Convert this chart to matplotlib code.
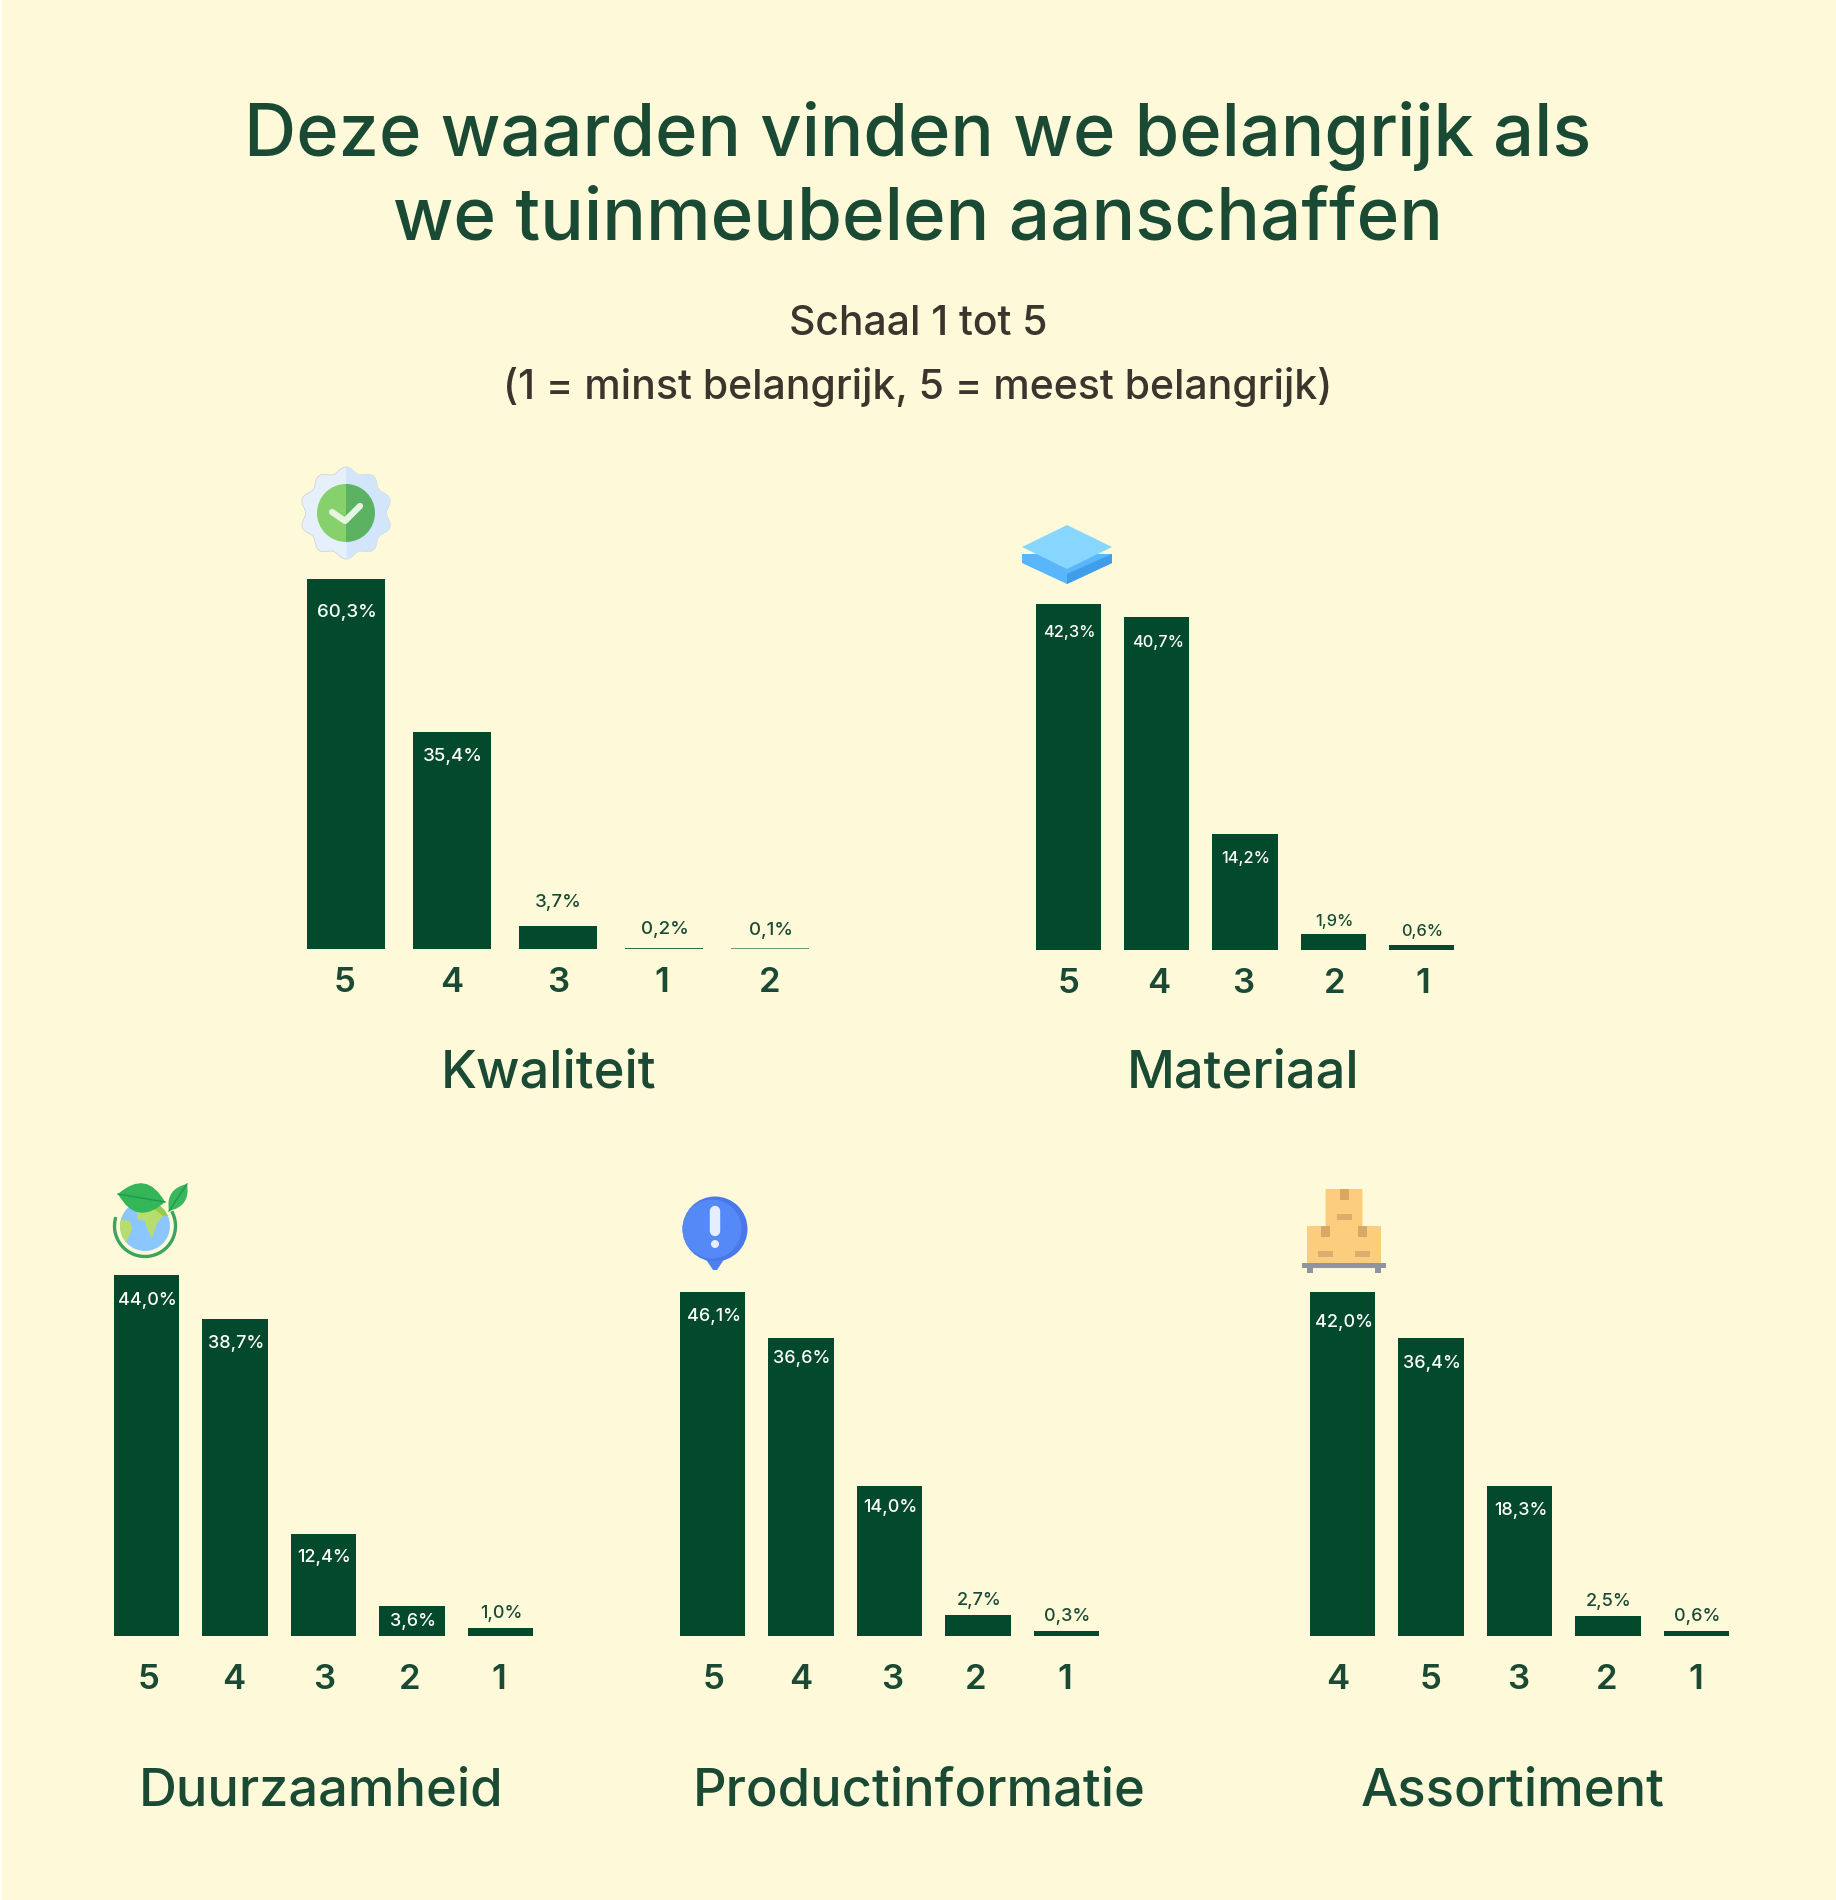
"""Deze waarden vinden we belangrijk - five small bar panels with icons"""
import numpy as np
import matplotlib
matplotlib.use("Agg")
import matplotlib.pyplot as plt
from matplotlib.patches import Circle, Polygon, Rectangle, FancyBboxPatch, Arc, Wedge, PathPatch
from matplotlib.path import Path

BG = "#fefad9"
BAR = "#034a2c"
HEAD = "#1a4a34"
SUB = "#3b352d"
FONT = ["Inter", "Open Sans", "DejaVu Sans"]

kwaliteit_labels = ["5", "4", "3", "1", "2"]
kwaliteit_values = [60.3, 35.4, 3.7, 0.2, 0.1]
materiaal_labels = ["5", "4", "3", "2", "1"]
materiaal_values = [42.3, 40.7, 14.2, 1.9, 0.6]
duurzaam_labels = ["5", "4", "3", "2", "1"]
duurzaam_values = [44.0, 38.7, 12.4, 3.6, 1.0]
product_labels = ["5", "4", "3", "2", "1"]
product_values = [46.1, 36.6, 14.0, 2.7, 0.3]
# the source draws these bars taller/shorter than their printed percentages
product_heights = [42.0, 36.4, 18.3, 2.6, 0.6]
assort_labels = ["4", "5", "3", "2", "1"]
assort_values = [42.0, 36.4, 18.3, 2.5, 0.6]

W, H = 1836, 1900
fig = plt.figure(figsize=(W / 100, H / 100), dpi=100, facecolor=BG)
pg = fig.add_axes([0, 0, 1, 1])
pg.set_xlim(0, W)
pg.set_ylim(H, 0)
pg.axis("off")
pg.set_facecolor("none")
pg.add_patch(Rectangle((0, 0), 2, H, fc="#fffff2", ec="none"))  # pale strip on the left edge


def fmt(v):
    return f"{v:.1f}".replace(".", ",") + "%"


def panel(left, right, bottom, px_per_pct, cats, vals, heights=None, nudge=None, label_pad=30, inside=None, small=None):
    """left/right = outer bar edges in pixels, bottom = baseline pixel"""
    n = len(vals)
    heights = vals if heights is None else heights
    top = bottom - max(heights) * px_per_pct
    ax = fig.add_axes([left / W, 1 - bottom / H, (right - left) / W, (bottom - top) / H])
    ax.patch.set_alpha(0)
    ax.set_xlim(-0.5 + (1 - 0.74) / 2, n - 0.5 - (1 - 0.74) / 2)
    ax.set_ylim(0, max(heights))
    x = np.arange(n)
    for i, (h, v) in enumerate(zip(heights, vals)):
        alpha = 0.55 if h <= 0.1 else (0.8 if h <= 0.2 else 1)
        ax.bar(i, h, width=0.74, color=BAR, alpha=alpha, linewidth=0)
        off = inside[i]
        ax.annotate(fmt(v), (i, h), xytext=(1, -off), textcoords="offset pixels",
                    ha="center", va="center", fontsize=small, color="white" if off > 0 else HEAD,
                    family=FONT, fontweight="medium", clip_on=False)
    nudge = [0] * n if nudge is None else nudge
    unit = (right - left) / (n - 0.74)
    ax.set_xticks(x + np.array(nudge) / unit)
    ax.set_xticklabels(cats, fontsize=25, color=HEAD, family=FONT, fontweight="semibold")
    ax.tick_params(axis="x", length=0, pad=label_pad)
    ax.set_yticks([])
    for s in ax.spines.values():
        s.set_visible(False)
    return ax


# Top row
panel(306.5, 809, 949, 6.135, kwaliteit_labels, kwaliteit_values, nudge=[-1, 0, 0, -2, 0],
      label_pad=13, inside=[33, 25, -24, -18, -18], small=13.5)
panel(1036, 1454, 950, 8.17, materiaal_labels, materiaal_values, nudge=[0, 2, -2, 2, 1],
      label_pad=13, inside=[28, 25, 25, -13, -14], small=11.8)
# Bottom row
panel(114, 533, 1636, 8.2, duurzaam_labels, duurzaam_values, nudge=[2, -1, 1, -3, -2],
      label_pad=20, inside=[25, 25, 23, 15, -14], small=13)
panel(680, 1099, 1636, 8.2, product_labels, product_values, heights=product_heights,
      nudge=[1, 0, 3, -2, -2], label_pad=20, inside=[25, 21, 22, -14, -15], small=13)
panel(1310, 1729, 1636, 8.2, assort_labels, assort_values, nudge=[-5, -1, -2, -1, -1],
      label_pad=20, inside=[31, 26, 25, -14, -15], small=13)

# Headings
title_kw = dict(ha="center", va="center", family=FONT, color=HEAD, fontweight="medium")
pg.text(918, 136, "Deze waarden vinden we belangrijk als", fontsize=52, **title_kw)
pg.text(918, 220, "we tuinmeubelen aanschaffen", fontsize=52.4, **title_kw)
pg.text(918, 324, "Schaal 1 tot 5", fontsize=29.4, ha="center", va="center", family=FONT, color=SUB, fontweight="medium")
pg.text(918, 387, "(1 = minst belangrijk, 5 = meest belangrijk)", fontsize=29.5, ha="center", va="center",
        family=FONT, color=SUB, fontweight="medium")
for name, cx, cy in [("Kwaliteit", 549, 1074), ("Materiaal", 1243, 1074), ("Duurzaamheid", 321, 1792),
                     ("Productinformatie", 919, 1792), ("Assortiment", 1513, 1792)]:
    pg.text(cx, cy, name, fontsize=37.8, **title_kw)


# Icons
def badge(cx, cy):
    t = np.linspace(0, 2 * np.pi, 240)
    r = 47 * (0.92 + 0.06 * np.cos(10 * t))
    xs, ys = cx + r * np.sin(t), cy - r * np.cos(t)
    pg.add_patch(Polygon(np.c_[xs, ys], fc="#e6f0fb", ec="#cfd6d8", lw=0.6))
    right = t <= np.pi
    pg.add_patch(Polygon(np.c_[xs[right], ys[right]], fc="#d3e5fb", ec="none"))
    pg.add_patch(Wedge((cx, cy), 29, 90, 270, fc="#86d16c", ec="none"))
    pg.add_patch(Wedge((cx, cy), 29, 270, 90, fc="#5cb263", ec="none"))
    pg.plot([cx - 14, cx - 1, cx + 14], [cy - 1, cy + 8, cy - 7], color="#e6f5e2", lw=4.5, solid_capstyle="round")


def layers(cx, cy):
    pg.add_patch(Polygon([(cx - 45, cy + 8), (cx + 45, cy + 8), (cx + 45, cy + 17), (cx, cy + 38), (cx - 45, cy + 17)],
                         fc="#5ab6fb", ec="none"))
    pg.add_patch(Polygon([(cx, cy + 28), (cx + 45, cy + 8), (cx + 45, cy + 17), (cx, cy + 38)], fc="#3f9de9", ec="none"))
    pg.add_patch(Polygon([(cx - 45, cy + 1), (cx, cy - 21), (cx + 45, cy + 1), (cx, cy + 23)], fc="#86d6ff", ec="none"))


def leaf(x0, y0, x1, y1, bulge, fc):
    xm, ym = (x0 + x1) / 2, (y0 + y1) / 2
    dx, dy = x1 - x0, y1 - y0
    a = (xm - dy * bulge, ym + dx * bulge)
    b = (xm + dy * bulge, ym - dx * bulge)
    p = Path([(x0, y0), a, (x1, y1), b, (x0, y0)], [Path.MOVETO, Path.CURVE3, Path.LINETO, Path.CURVE3, Path.LINETO])
    pg.add_patch(PathPatch(p, fc=fc, ec="none", zorder=5))
    pg.plot([x0, x1], [y0, y1], color="#1f9a4b", lw=1, zorder=6)


def globe(cx, cy):
    pg.add_patch(Arc((cx, cy), 61, 61, theta1=-29, theta2=197, color="#3aa35e", lw=2.4))
    earth = Circle((cx, cy), 25, fc="#8bc6ff", ec="none")
    pg.add_patch(earth)
    for pts, col in [([(-8, -15), (0, -30), (30, -20), (18, -10), (12, -3), (7, 12), (2, 3), (0, -5), (-8, -7)], "#b7dd6e"),
                     ([(-30, -7), (-15, -5), (-13, 3), (-18, 15), (-30, 15)], "#b7dd6e"),
                     ([(10, -30), (30, -10), (18, -10), (8, -18)], "#97cb4d")]:
        land = Polygon([(cx + a, cy + b) for a, b in pts], fc=col, ec="none")
        pg.add_patch(land)
        land.set_clip_path(earth)
    leaf(cx - 27, cy - 32, cx + 20, cy - 24, 0.62, "#33b558")
    leaf(cx + 24, cy - 15, cx + 42, cy - 42, 0.48, "#38b75c")


def bubble(cx, cy):
    pg.add_patch(Polygon([(cx - 10, cy + 29), (cx + 10, cy + 29), (cx + 2, cy + 41), (cx - 2, cy + 41)], fc="#4d82ee", ec="none"))
    pg.add_patch(Circle((cx, cy), 32.5, fc="#4a78e8", ec="none"))
    pg.add_patch(Circle((cx - 3, cy), 29.5, fc="#5489f7", ec="none"))
    pg.plot([cx, cx], [cy - 18, cy + 2], color="#e6edff", lw=7.5, solid_capstyle="round")
    pg.add_patch(Circle((cx, cy + 15), 4, fc="#e6edff", ec="none"))


def boxes(cx, base):
    pg.add_patch(Rectangle((cx - 42, base), 84, 5, fc="#8e95a0", ec="none"))
    for dx in (-37, 31):
        pg.add_patch(Rectangle((cx + dx, base + 5), 6, 5, fc="#8e95a0", ec="none"))
    for bx, by in [(-37, -37), (0, -37), (-18.5, -74)]:
        pg.add_patch(FancyBboxPatch((cx + bx + 1, base + by + 1), 35, 35, boxstyle="round,pad=1", fc="#fbcd7c", ec="none"))
        pg.add_patch(Rectangle((cx + bx + 14, base + by), 9, 11, fc="#d9a864", ec="none"))
        pg.add_patch(Rectangle((cx + bx + 11, base + by + 25), 15, 6, fc="#dcae6c", ec="none"))


badge(346, 513)
layers(1067, 546)
globe(145, 1226)
bubble(715, 1229)
boxes(1344, 1263)

fig.savefig("out.png", dpi=100, facecolor=BG)
